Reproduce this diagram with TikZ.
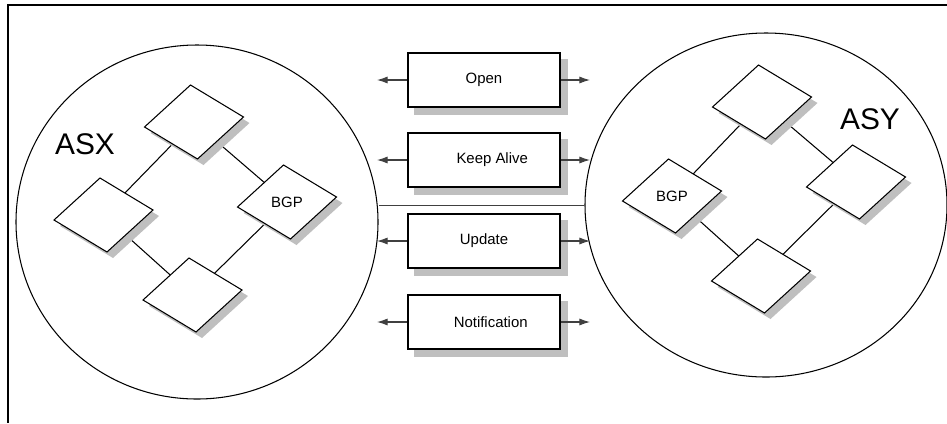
\documentclass[tikz,border=0pt]{standalone}
\usepackage{fontspec}
\setmainfont{Liberation Sans}
\usetikzlibrary{arrows.meta,shapes.geometric,backgrounds}

\begin{document}
\begin{tikzpicture}[x=0.2mm, y=-0.2mm, >={Latex[length=6pt,width=4pt]}, line width=0.6pt,
	msg/.style={draw, fill=white, minimum width=3.04cm, minimum height=1.08cm,
		font=\fontsize{8.5}{10}\selectfont},
	as/.style={draw, ellipse, inner sep=0pt},
	msgarrow/.style={->, draw=black!75}]
	\useasboundingbox (0,0) rectangle (947,423);
	% frame
	\draw[line width=0.8pt] (947,5) -- (8,5) -- (8,423);
	% the two autonomous systems
	\node[as, minimum width=7.24cm, minimum height=7.08cm] (asx) at (197,222) {};
	\node[as, minimum width=7.24cm, minimum height=6.88cm] (asy) at (766,205) {};
	\node[font=\fontsize{17}{20}\selectfont] at (85,144) {ASX};
	\node[font=\fontsize{17}{20}\selectfont] at (870,119) {ASY};
	\draw[black!75, line width=0.5pt] (asy.west) -- (asy.west -| asx.east);
	% routers
	\coordinate (xt) at (194,122);
	\coordinate (xl) at (103.5,215);
	\coordinate (xr) at (287,202);
	\coordinate (xb) at (192.5,295);
	\coordinate (yt) at (762,102);
	\coordinate (yl) at (672,196);
	\coordinate (yr) at (856,182);
	\coordinate (yb) at (761,276);
	\draw (xt) -- (xl) (xt) -- (xr) (xl) -- (xb) (xr) -- (xb);
	\draw (yt) -- (yl) (yt) -- (yr) (yl) -- (yb) (yr) -- (yb);
	\foreach \n in {xt,xl,xr,xb,yt,yl,yr,yb}{
		\fill[black!25] ([shift={(6,6)}]\n) +(-49.5,5) -- +(-3.5,-37) -- +(49.5,-5) -- +(3.5,37) -- cycle;
		\filldraw[fill=white] (\n) +(-49.5,5) -- +(-3.5,-37) -- +(49.5,-5) -- +(3.5,37) -- cycle;
	}
	\node[font=\fontsize{8.5}{10}\selectfont] at (xr) {BGP};
	\node[font=\fontsize{8.5}{10}\selectfont] at (yl) {BGP};
	% messages
	\node[msg] (open) at (484,80) {Open};
	\node[msg] (keep) at (484,160) {\hspace{1.1em}Keep Alive};
	\node[msg] (update) at (484,241) {Update};
	\node[msg] (notif) at (484,322) {\hspace{0.9em}Notification};
	\coordinate (lend) at (377,0);
	\coordinate (rend) at (590,0);
	\foreach \n in {open,keep,update,notif}{
		\draw[msgarrow] (\n.west) -- (\n.west -| lend);
		\draw[msgarrow] (\n.east) -- (\n.east -| rend);
	}
	\begin{scope}[on background layer]
		\foreach \n in {open,keep,update,notif}
			\fill[black!25] ([shift={(7,7)}]\n.south west) rectangle ([shift={(7,7)}]\n.north east);
	\end{scope}
\end{tikzpicture}
\end{document}
